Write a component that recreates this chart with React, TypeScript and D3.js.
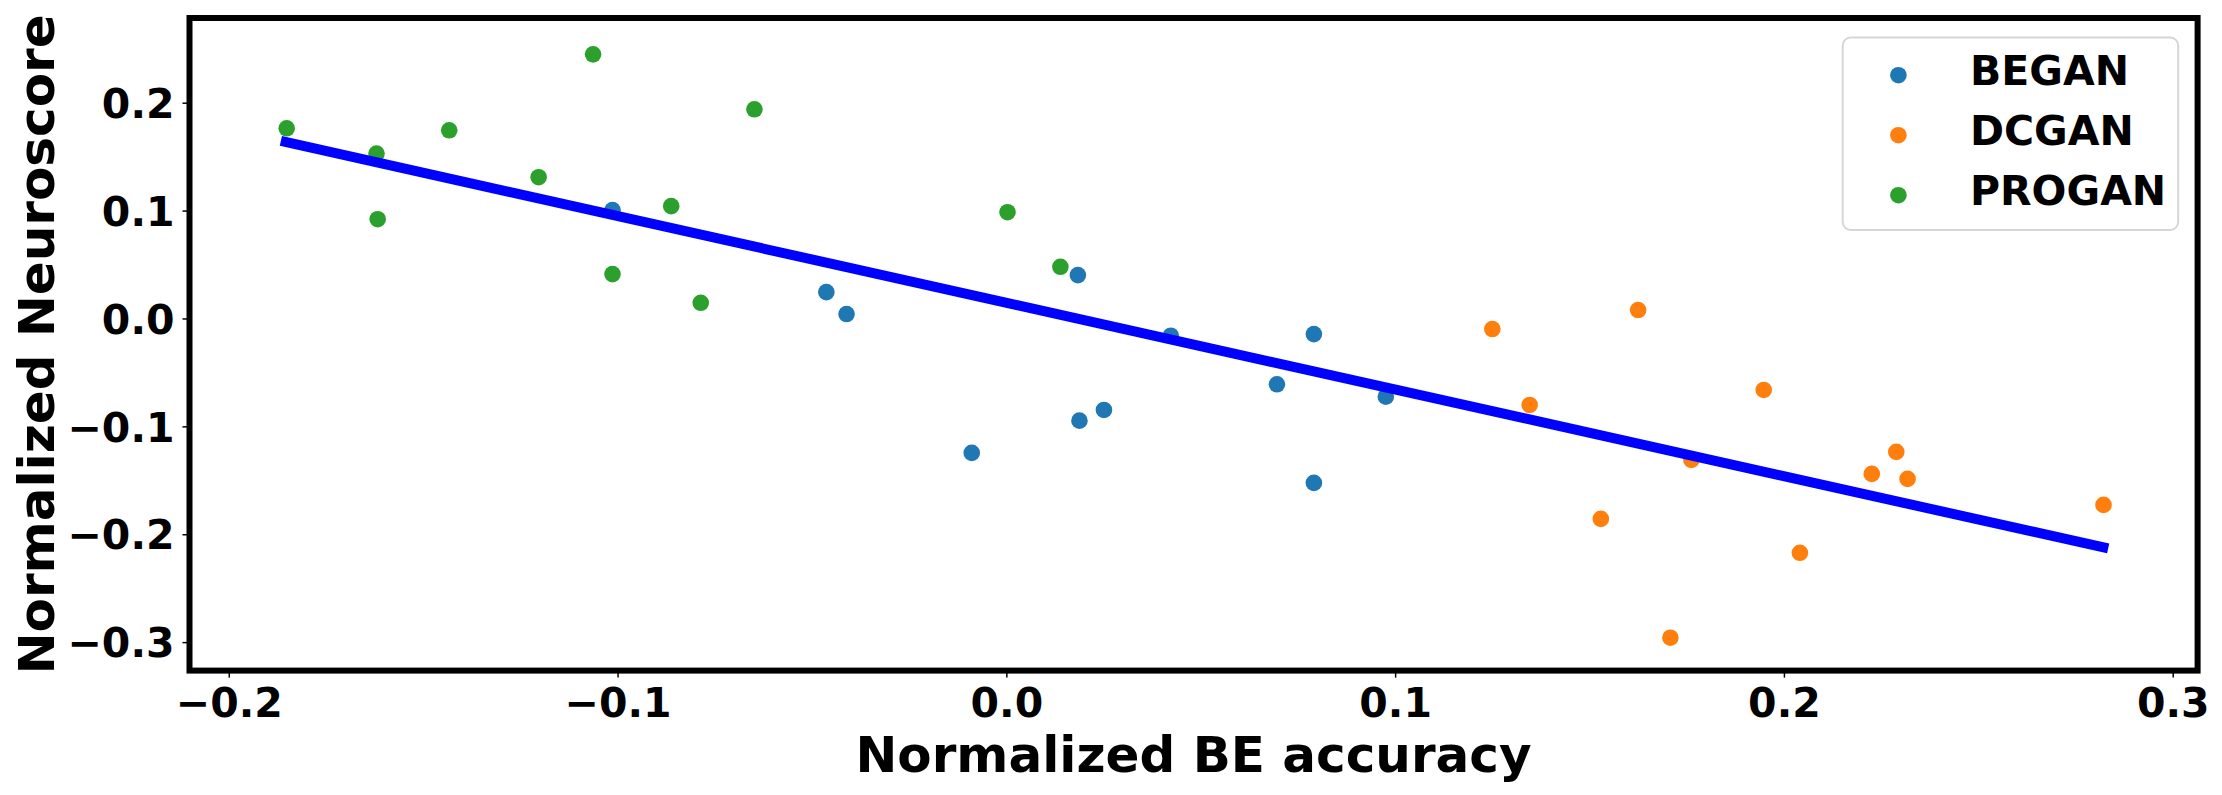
import React, { useEffect, useRef } from 'react';
import * as d3 from 'd3';

// values
const beganX = [-0.1013, -0.0463, -0.0411, -0.0089, 0.0188, 0.0251, 0.0184, 0.0423, 0.0696, 0.0791, 0.0791, 0.0976];
const beganY = [0.1004, 0.0244, 0.0041, -0.1246, -0.0947, -0.0848, 0.0402, -0.016, -0.0610, -0.0145, -0.1524, -0.0725];
const dcganX = [0.125, 0.1346, 0.1529, 0.1625, 0.1708, 0.1762, 0.1948, 0.2041, 0.2226, 0.2289, 0.2318, 0.2822];
const dcganY = [-0.0098, -0.0802, -0.1858, 0.0078, -0.2959, -0.1311, -0.0663, -0.2172, -0.1441, -0.1237, -0.1487, -0.1728];
const proganX = [-0.1851, -0.162, -0.1617, -0.1433, -0.1203, -0.1063, -0.1013, -0.0862, -0.0786, -0.0648, 0.0003, 0.0139];
const proganY = [0.1763, 0.1528, 0.092, 0.1744, 0.1309, 0.2448, 0.0411, 0.1041, 0.0145, 0.1939, 0.0985, 0.0479];

// fitted line endpoints
const fitX = [-0.1866, 0.2834];
const fitY = [0.1645, -0.2132];

const seriesNames = ['BEGAN', 'DCGAN', 'PROGAN'];
const xTicks = [-0.2, -0.1, 0.0, 0.1, 0.2, 0.3];
const yTicks = [-0.3, -0.2, -0.1, 0.0, 0.1, 0.2];

const App = () => {
  const chartRef = useRef<SVGSVGElement | null>(null);

  useEffect(() => {
    const width = 2222;
    const height = 795;
    const left = 189.5, right = 2197.6, top = 18, bottom = 670.6;
    const font = "'DejaVu Sans', sans-serif";
    const tickFont = 41;
    const colors = ['#1f77b4', '#ff7f0e', '#2ca02c'];

    const svg = d3.select(chartRef.current);
    svg.selectAll('*').remove();
    svg.attr('width', width).attr('height', height);

    const x = d3.scaleLinear().domain([-0.2101, 0.3064]).range([left, right]);
    const y = d3.scaleLinear().domain([-0.3264, 0.2785]).range([bottom, top]);
    const fmt = d3.format('.1f');

    const series = [
      { name: seriesNames[0], xs: beganX, ys: beganY, color: colors[0] },
      { name: seriesNames[1], xs: dcganX, ys: dcganY, color: colors[1] },
      { name: seriesNames[2], xs: proganX, ys: proganY, color: colors[2] },
    ];

    // x axis
    const xAxis = svg.append('g')
      .attr('transform', `translate(0,${bottom})`)
      .call(d3.axisBottom(x).tickValues(xTicks).tickFormat(d => fmt(d as number)).tickSize(7));
    xAxis.select('.domain').remove();
    xAxis.selectAll('line').attr('stroke', 'black').attr('stroke-width', 1.5);
    xAxis.selectAll('text')
      .attr('font-family', font).attr('font-weight', 'bold').attr('font-size', tickFont)
      .attr('fill', 'black').attr('dy', 0).attr('y', 46);

    // y axis
    const yAxis = svg.append('g')
      .attr('transform', `translate(${left},0)`)
      .call(d3.axisLeft(y).tickValues(yTicks).tickFormat(d => fmt(d as number)).tickSize(7).tickPadding(8));
    yAxis.select('.domain').remove();
    yAxis.selectAll('line').attr('stroke', 'black').attr('stroke-width', 1.5);
    yAxis.selectAll('text')
      .attr('font-family', font).attr('font-weight', 'bold').attr('font-size', tickFont)
      .attr('fill', 'black').attr('dy', '0.36em');

    // axis labels
    svg.append('text')
      .attr('x', (left + right) / 2).attr('y', 772)
      .attr('text-anchor', 'middle')
      .attr('font-family', font).attr('font-weight', 'bold').attr('font-size', 50)
      .text('Normalized BE accuracy');

    svg.append('text')
      .attr('transform', `translate(54,${(top + bottom) / 2}) rotate(-90)`)
      .attr('text-anchor', 'middle')
      .attr('font-family', font).attr('font-weight', 'bold').attr('font-size', 50)
      .text('Normalized Neuroscore');

    // scatter points
    series.forEach(s => {
      svg.append('g')
        .selectAll('circle')
        .data(s.xs.map((v, i) => [v, s.ys[i]]))
        .join('circle')
        .attr('cx', d => x(d[0]))
        .attr('cy', d => y(d[1]))
        .attr('r', 8.3)
        .attr('fill', s.color);
    });

    // regression line
    const line = d3.line<number>()
      .x(d => x(d))
      .y((d, i) => y(fitY[i]));
    svg.append('path')
      .attr('d', line(fitX))
      .attr('fill', 'none')
      .attr('stroke', '#0000ff')
      .attr('stroke-width', 10);

    // frame
    svg.append('rect')
      .attr('x', left).attr('y', top)
      .attr('width', right - left).attr('height', bottom - top)
      .attr('fill', 'none').attr('stroke', 'black').attr('stroke-width', 6);

    // legend
    const legend = svg.append('g');
    legend.append('rect')
      .attr('x', 1842.7).attr('y', 37.5).attr('width', 335.5).attr('height', 192.5)
      .attr('rx', 8)
      .attr('fill', 'white').attr('fill-opacity', 0.8)
      .attr('stroke', '#d6d6d6').attr('stroke-width', 2);
    series.forEach((s, i) => {
      legend.append('circle')
        .attr('cx', 1898.4).attr('cy', 75.2 + i * 60)
        .attr('r', 8.3).attr('fill', s.color);
      legend.append('text')
        .attr('x', 1970).attr('y', 85 + i * 60)
        .attr('font-family', font).attr('font-weight', 'bold').attr('font-size', tickFont)
        .text(s.name);
    });
  }, []);

  return (
    <div>
      <svg ref={chartRef} style={{ position: 'absolute', left: 0, top: 0 }}></svg>
    </div>
  );
};

export default App;
